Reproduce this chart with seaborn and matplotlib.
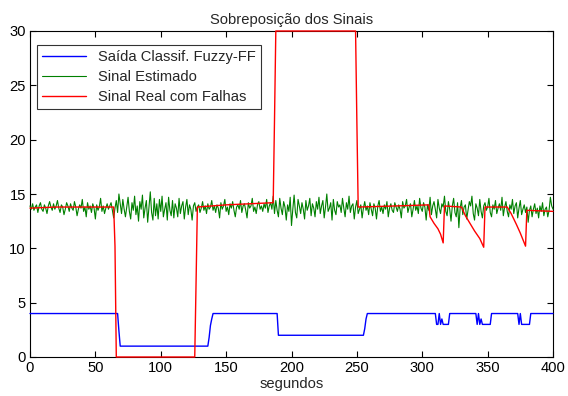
import numpy as np
import pandas as pd
import seaborn as sns
import matplotlib
matplotlib.use("Agg")
import matplotlib.pyplot as plt

# ---------------- data ----------------
title = "Sobreposição dos Sinais"
xlabel = "segundos"
labels = ["Saída Classif. Fuzzy-FF", "Sinal Estimado", "Sinal Real com Falhas"]
xticks = [0, 50, 100, 150, 200, 250, 300, 350, 400]
yticks = [0, 5, 10, 15, 20, 25, 30]

# estimated signal, one sample per second (0..400)
est_values = [
    13.9, 13.6, 14.1, 13.5, 13.8, 14.0, 13.3, 13.9, 14.2, 13.6, 13.4, 14.0, 13.7, 13.2, 13.9, 14.3, 13.8, 13.5, 14.1, 13.6,
    13.9, 14.4, 13.7, 13.3, 14.0, 13.8, 13.1, 13.6, 14.2, 13.9, 13.4, 14.1, 13.7, 13.5, 14.3, 13.8, 13.0, 13.6, 14.0, 13.7,
    14.5, 13.4, 13.8, 12.9, 14.2, 13.6, 13.9, 13.3, 14.1, 13.7, 12.7, 14.0, 13.5, 13.8, 14.6, 13.4, 13.9, 13.2, 13.7, 14.1,
    13.6, 13.9, 14.2, 13.5, 12.8, 13.7, 14.4, 13.3, 15.0, 14.1, 13.2, 14.5, 13.6, 12.9, 13.8, 14.7, 13.4, 12.7, 14.2, 13.5,
    14.8, 13.1, 13.9, 12.5, 14.3, 13.6, 14.9, 12.8, 13.7, 14.4, 12.4, 13.8, 15.2, 13.3, 12.6, 14.6, 13.0, 14.1, 12.7, 14.5,
    13.4, 14.8, 12.9, 13.6, 14.2, 12.6, 14.7, 13.5, 13.0, 14.4, 12.8, 14.1, 13.7, 12.9, 14.6, 13.2, 13.9, 14.3, 12.7, 13.8,
    14.5, 13.1, 14.0, 13.6, 12.6, 13.9, 14.2, 13.4, 13.8, 14.0, 13.3, 13.7, 14.3, 13.5, 13.9, 13.2, 14.1, 13.6, 13.8, 14.4,
    13.5, 13.9, 13.3, 14.0, 13.7, 12.8, 14.2, 13.6, 13.9, 14.5, 13.4, 13.8, 13.1, 14.1, 13.7, 14.3, 13.5, 12.9, 13.8, 14.0,
    13.6, 14.4, 13.3, 13.9, 14.1, 13.5, 12.8, 14.2, 13.7, 13.9, 14.6, 13.4, 13.8, 13.2, 14.0, 14.3, 13.6, 13.9, 13.4, 14.1,
    13.7, 14.5, 13.3, 13.9, 14.2, 13.6, 14.8, 13.2, 14.4, 13.5, 12.9, 14.6, 13.7, 13.1, 14.3, 13.8, 12.6, 14.0, 13.4, 14.7,
    12.1, 13.6, 14.9, 13.3, 12.8, 14.5, 13.9, 13.2, 14.2, 13.6, 12.7, 14.4, 13.5, 13.9, 14.6, 13.0, 14.1, 13.7, 12.9, 14.3,
    13.6, 14.7, 13.2, 13.9, 14.4, 12.8, 13.8, 15.0, 13.4, 13.7, 14.2, 12.6, 14.5, 13.5, 13.1, 14.3, 13.8, 14.0, 13.3, 14.6,
    13.7, 12.9, 14.2, 13.6, 14.8, 13.3, 13.9, 14.1, 12.7, 13.8, 14.4, 13.2, 13.6, 14.0, 12.8, 13.7, 14.3, 13.5, 13.9, 13.1,
    14.2, 13.6, 13.0, 14.1, 13.7, 12.7, 13.9, 14.4, 13.4, 13.8, 13.2, 14.0, 13.6, 14.3, 12.9, 13.7, 14.1, 13.5, 13.3, 14.2,
    13.8, 13.4, 14.0, 13.6, 12.8, 14.3, 13.7, 13.9, 14.5, 13.3, 13.8, 14.1, 12.9, 13.6, 14.4, 13.5, 13.9, 13.2, 14.6, 13.7,
    13.4, 14.2, 13.8, 12.6, 14.0, 13.5, 14.7, 13.1, 13.9, 14.3, 13.6, 12.8, 14.5, 13.7, 13.2, 14.1, 13.8, 14.8, 13.4, 13.0,
    14.3, 13.6, 12.5, 13.9, 14.6, 13.3, 12.9, 14.2, 11.9, 13.7, 14.4, 13.1, 13.8, 14.0, 12.7, 13.5, 14.3, 13.9, 14.8, 13.2,
    12.6, 14.1, 13.7, 13.0, 14.5, 13.4, 12.8, 13.9, 14.2, 13.5, 13.8, 14.6, 13.3, 12.9, 14.0, 13.6, 14.4, 13.2, 13.7, 14.1,
    13.5, 14.7, 13.0, 13.8, 14.3, 13.4, 12.9, 14.0, 13.6, 14.5, 13.2, 13.9, 14.2, 12.8, 13.7, 14.4, 13.1, 13.6, 14.0, 13.3,
    13.8, 12.4, 13.5, 13.9, 12.9, 13.6, 14.1, 13.2, 13.7, 12.8, 13.9, 13.4, 14.2, 13.0, 13.6, 13.8, 12.9, 13.5, 14.7, 13.9,
    13.6,
]
est_time = list(range(len(est_values)))

# real signal with faults (breakpoints)
real_time = [0, 20, 40, 64, 65, 66, 126, 127, 128, 150, 186, 187, 188, 249, 250, 251, 280,
             305, 306, 309, 312, 314, 316, 317, 330, 333, 337, 340, 344, 347, 348,
             365, 368, 372, 375, 379, 380, 400]
real_values = [13.7, 13.8, 13.8, 13.8, 10.2, 0.0, 0.0, 6.8, 13.8, 14.0, 14.2, 21.8, 30.0, 30.0, 21.6, 13.8, 13.9,
               14.0, 12.9, 12.3, 11.8, 11.3, 10.5, 13.9, 13.8, 13.0, 12.2, 11.6, 10.9, 10.1, 13.8,
               13.8, 13.2, 12.2, 11.4, 10.2, 13.5, 13.4]

# fuzzy classifier output (breakpoints)
fuzzy_time = [0, 67, 68, 69, 136, 137, 138, 139, 140, 189, 190, 255, 256, 257, 258,
              310, 311, 312, 313, 314, 315, 316, 320, 321,
              341, 342, 343, 344, 345, 346, 352, 353,
              373, 374, 375, 376, 382, 383, 400]
fuzzy_values = [4, 4, 2.4, 1, 1, 1.8, 2.9, 3.5, 4, 4, 2, 2, 2.6, 3.5, 4,
                4, 3, 3, 4, 3, 3.5, 3, 3, 4,
                4, 3, 4, 3, 3.5, 3, 3, 4,
                4, 3, 4, 3, 3, 4, 4]

# ---------------- plot ----------------
sns.set_style("ticks")
plt.rcParams["font.family"] = ["Liberation Sans", "DejaVu Sans"]

FS = 10.6
fig = plt.figure(figsize=(5.68, 3.96), dpi=100)
ax = fig.add_axes([30 / 568, 1 - 357 / 396, 523 / 568, 326 / 396])

sns.lineplot(x=fuzzy_time, y=fuzzy_values, ax=ax, color="#0000ff", lw=1.0,
             estimator=None, sort=False, label=labels[0], zorder=3)
sns.lineplot(x=est_time, y=est_values, ax=ax, color="#008000", lw=0.8,
             estimator=None, sort=False, label=labels[1], zorder=3)
sns.lineplot(x=real_time, y=real_values, ax=ax, color="#ff0000", lw=1.0,
             estimator=None, sort=False, label=labels[2], zorder=3)
for ln in ax.lines:
    ln.set_clip_on(False)

ax.set_xlim(0, 400)
ax.set_ylim(0, 30)
ax.set_xticks(xticks)
ax.set_yticks(yticks)
ax.tick_params(direction="in", top=True, right=True, length=4, width=0.8,
               labelsize=FS, colors="black", pad=3)
for s in ax.spines.values():
    s.set_color("black")
    s.set_linewidth(0.8)
ax.set_title(title, fontsize=FS, pad=5)
ax.set_xlabel(xlabel, fontsize=FS, labelpad=1)
ax.set_ylabel("")

leg = ax.legend(loc="upper left", bbox_to_anchor=(0.0134, 0.957), borderaxespad=0,
                fontsize=FS, frameon=True, fancybox=False, handlelength=3.0,
                labelspacing=0.4, borderpad=0.35)
leg.get_frame().set_edgecolor("black")
leg.get_frame().set_linewidth(0.8)
leg.set_zorder(5)

fig.savefig("out.png", dpi=100)
